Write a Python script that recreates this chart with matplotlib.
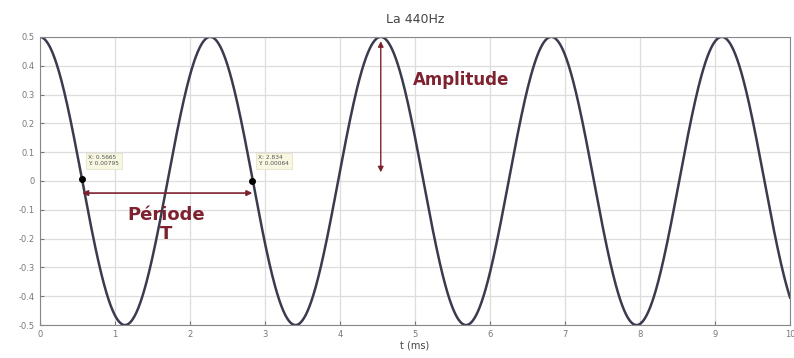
import numpy as np
import matplotlib
matplotlib.use("Agg")
import matplotlib.pyplot as plt

# Data
frequency_khz = 0.44      # La 440 Hz, t in ms
amplitude = 0.5
t_range = [0, 10]
x_ticks = [0, 1, 2, 3, 4, 5, 6, 7, 8, 9, 10]
y_ticks = [-0.5, -0.4, -0.3, -0.2, -0.1, 0, 0.1, 0.2, 0.3, 0.4, 0.5]
y_tick_labels = ["-0.5", "-0.4", "-0.3", "-0.2", "-0.1", "0", "0.1", "0.2", "0.3", "0.4", "0.5"]
cursor_x = [0.5665, 2.834]
cursor_y = [0.00795, 0.00064]
cursor_labels = ["X: 0.5665\nY: 0.00795", "X: 2.834\nY: 0.00064"]

t = np.linspace(t_range[0], t_range[1], 2000)
y = amplitude * np.cos(2 * np.pi * frequency_khz * t)

fig = plt.figure(figsize=(7.94, 3.58), dpi=100)
ax = fig.add_axes([0.050, 0.092, 0.945, 0.805])
ax.plot(t, y, color="#3b3b4e", lw=1.8)
ax.set_xlim(t_range)
ax.set_ylim(-0.5, 0.5)
ax.set_xticks(x_ticks)
ax.set_yticks(y_ticks)
ax.set_yticklabels(y_tick_labels)
ax.tick_params(labelsize=6, colors="#777777", length=3, direction="in")
ax.grid(True, color="#dddddd", lw=0.9)
for s in ax.spines.values():
    s.set_color("#888888")
ax.set_title("La 440Hz", fontsize=9, color="#444444", pad=10)
ax.set_xlabel("t (ms)", fontsize=7, color="#444444", labelpad=1)

red = "#7e2230"
# data cursors
ax.plot(cursor_x, cursor_y, "o", color="black", ms=4)
for cx, cy, lab in zip(cursor_x, cursor_y, cursor_labels):
    ax.text(cx + 0.08, 0.07, lab, fontsize=4.2, color="#555555", va="center", ha="left",
            bbox=dict(boxstyle="square,pad=0.4", fc="#f7f7e2", ec="#e0e0c0", lw=0.5))

# Period arrow
ax.annotate("", xy=(cursor_x[0], -0.042), xytext=(cursor_x[1], -0.042),
            arrowprops=dict(arrowstyle="<|-|>", color=red, lw=1.2, mutation_scale=8,
                            shrinkA=0, shrinkB=0))
ax.text((cursor_x[0] + cursor_x[1]) / 2 - 0.02, -0.15, "Période\nT", fontsize=13, fontweight="bold",
        color=red, ha="center", va="center", linespacing=1.05)

# Amplitude arrow
amp_t = 2 / frequency_khz
ax.annotate("", xy=(amp_t, 0.485), xytext=(amp_t, 0.03),
            arrowprops=dict(arrowstyle="<|-|>", color=red, lw=1.0, mutation_scale=8,
                            shrinkA=0, shrinkB=0))
ax.text(4.98, 0.35, "Amplitude", fontsize=12, fontweight="bold", color=red,
        ha="left", va="center")

fig.savefig("out.png", dpi=100)
